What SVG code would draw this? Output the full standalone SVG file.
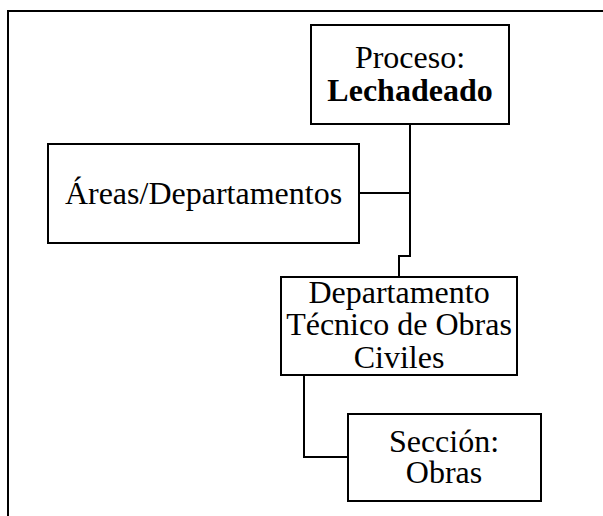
<svg xmlns="http://www.w3.org/2000/svg" width="603" height="516" viewBox="0 0 603 516">
<style>
.box{fill:#fff;stroke:#000;stroke-width:2}
.ln{fill:none;stroke:#000;stroke-width:2}
text{font-family:"Liberation Serif","Times New Roman",serif;font-size:32px;fill:#000;text-anchor:middle}
.b{font-weight:bold}
</style>
<rect width="603" height="516" fill="#fff"/>
<g id="frame"><path class="ln" d="M8,516 V11 H603"/></g>
<g id="connectors">
<path class="ln" d="M410,124 V256 H399 V277"/>
<path class="ln" d="M359,193 H410"/>
<path class="ln" d="M304,375 V457 H348"/>
</g>
<g id="proceso">
<rect class="box" x="311" y="25" width="198" height="99"/>
<text x="410" y="68">Proceso:</text>
<text x="410" y="101" class="b">Lechadeado</text>
</g>
<g id="areas">
<rect class="box" x="48" y="144" width="311" height="99"/>
<text x="203.5" y="204">Áreas/Departamentos</text>
</g>
<g id="depto">
<rect class="box" x="281" y="277" width="236" height="98"/>
<text x="399" y="303">Departamento</text>
<text x="399" y="335">Técnico de Obras</text>
<text x="399" y="368">Civiles</text>
</g>
<g id="seccion">
<rect class="box" x="348" y="414" width="193" height="87"/>
<text x="444" y="452">Sección:</text>
<text x="444" y="483">Obras</text>
</g>
</svg>
